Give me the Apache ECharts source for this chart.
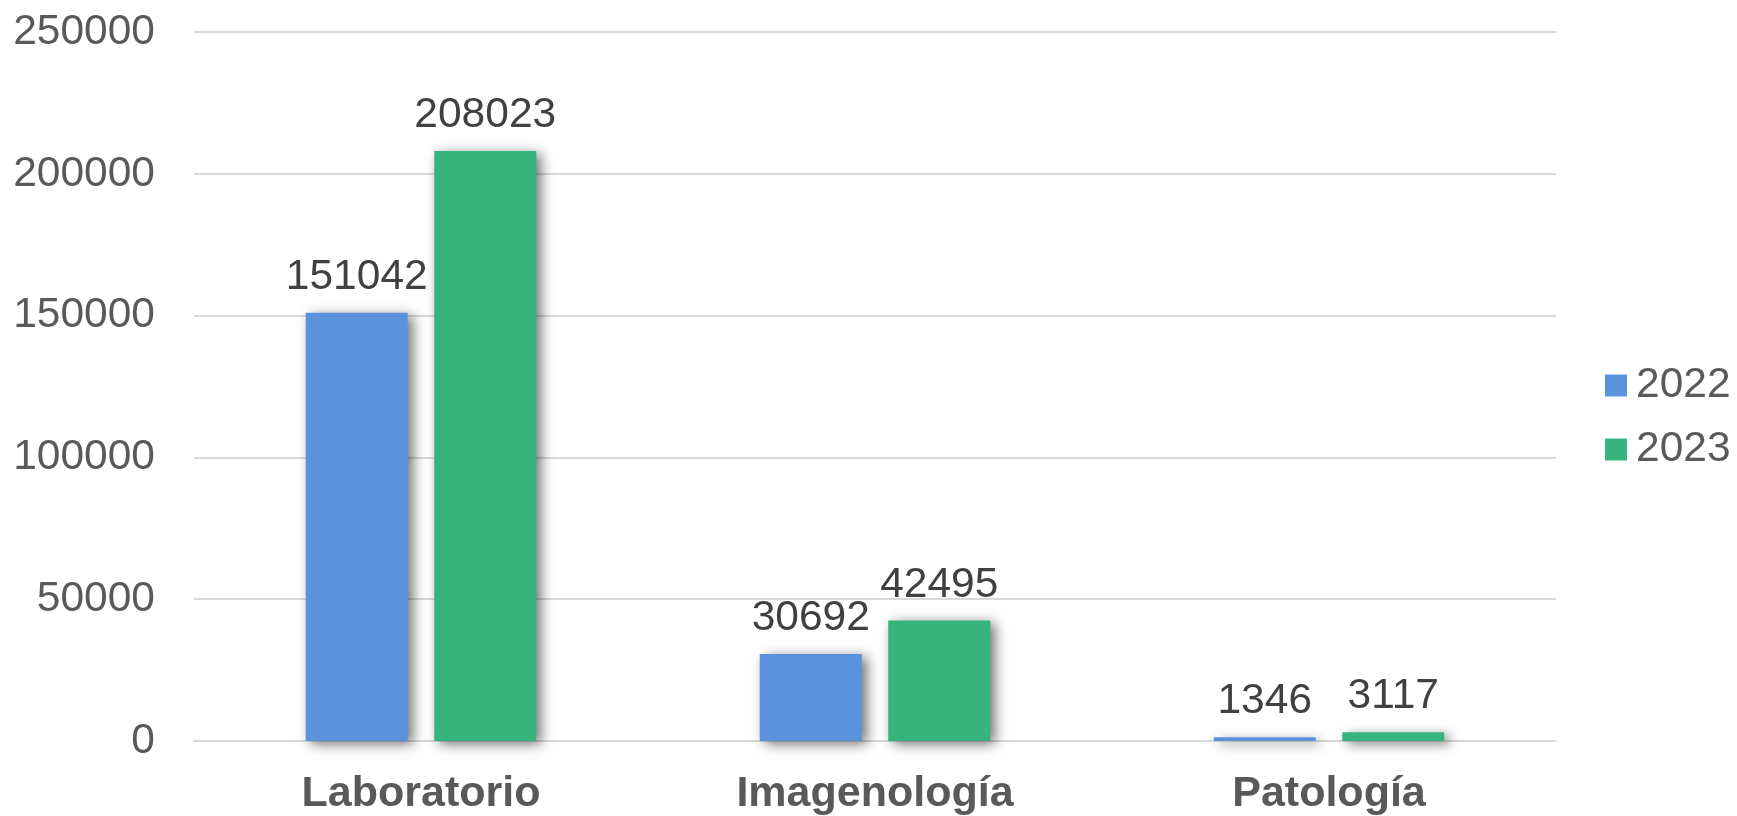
<!DOCTYPE html>
<html>
<head>
<meta charset="utf-8">
<script src="https://cdn.jsdelivr.net/npm/echarts@6/dist/echarts.min.js"></script>
<style>
  html, body { margin: 0; padding: 0; background: #fff; }
  #chart { width: 1737px; height: 816px; }
</style>
</head>
<body>
<div id="chart"></div>
<script>
// datos
var categorias = ['Laboratorio', 'Imagenología', 'Patología'];
var anios = ['2022', '2023'];
var valores2022 = [151042, 30692, 1346];
var valores2023 = [208023, 42495, 3117];
var colores = ['#5A93DC', '#37B47B'];

var chart = echarts.init(document.getElementById('chart'));
var fuente = '"Liberation Sans", Arial, sans-serif';
var sombra = {
  shadowBlur: 12,
  shadowOffsetX: 5,
  shadowOffsetY: 3,
  shadowColor: 'rgba(0,0,0,0.55)'
};

function serie(nombre, datos, color) {
  return {
    name: nombre,
    type: 'bar',
    data: datos,
    barWidth: 102,
    barGap: '26%',
    itemStyle: Object.assign({ color: color }, sombra),
    label: {
      show: true,
      position: 'top',
      distance: 14,
      color: '#404040',
      fontSize: 42.5,
      fontFamily: fuente
    }
  };
}

var option = {
  animation: false,
  textStyle: { fontFamily: fuente },
  grid: { left: 194, right: 181, top: 32, bottom: 73 },
  legend: {
    orient: 'vertical',
    left: 1600,
    top: 359,
    itemWidth: 22,
    itemHeight: 22,
    itemGap: 21,
    icon: 'rect',
    data: anios,
    textStyle: { color: '#595959', fontSize: 42.5, fontFamily: fuente, padding: [0, 0, 0, 4] }
  },
  xAxis: {
    type: 'category',
    data: categorias,
    axisLine: { lineStyle: { color: '#d9d9d9', width: 2 } },
    axisTick: { show: false },
    axisLabel: {
      color: '#595959',
      fontSize: 43,
      fontWeight: 'bold',
      margin: 32,
      fontFamily: fuente
    }
  },
  yAxis: {
    type: 'value',
    min: 0,
    max: 250000,
    interval: 50000,
    axisLine: { show: false },
    axisTick: { show: false },
    splitLine: { lineStyle: { color: '#d9d9d9', width: 2 } },
    axisLabel: {
      color: '#595959',
      fontSize: 42.5,
      margin: 39,
      fontFamily: fuente,
      formatter: function (v) { return String(v); }
    }
  },
  series: [
    serie(anios[0], valores2022, colores[0]),
    serie(anios[1], valores2023, colores[1])
  ]
};

chart.setOption(option);
</script>
</body>
</html>
